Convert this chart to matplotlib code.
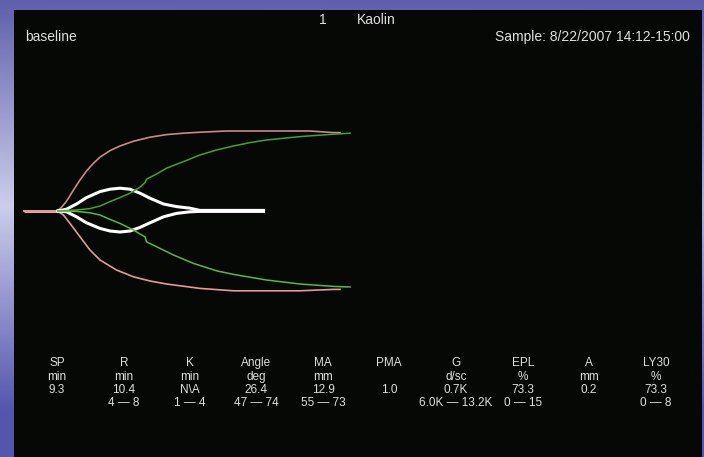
import numpy as np
import matplotlib
matplotlib.use('Agg')
import matplotlib.pyplot as plt

plt.rcParams['font.family'] = ['Liberation Sans', 'DejaVu Sans']

# tracing data: time (min) vs amplitude (mm), upper and lower branch
pink_t_up = [0, 6.8, 6.9, 7.5, 8.2, 8.9, 9.9, 11.2, 12.5, 13.9, 15.2, 17.2, 19.2, 21.9,
             25.2, 28.5, 31.9, 35.2, 40.5, 48.5, 57.2, 61.9, 63.2]
pink_a_up = [0, 0, 0.5, 1.9, 3.9, 6.4, 10.5, 15.5, 20.0, 23.9, 26.9, 30.2, 32.5, 34.9,
             36.9, 38.2, 38.9, 39.4, 40.0, 40.0, 40.0, 39.2, 39.2]
pink_t_lo = [0, 6.8, 6.9, 7.9, 9.2, 11.2, 13.2, 15.2, 18.5, 21.9, 25.2, 28.5, 35.2,
             41.9, 55.2, 61.9, 63.2]
pink_a_lo = [0, 0, -0.4, -2.0, -6.2, -12.9, -19.5, -24.5, -29.5, -32.9, -35.0, -36.5,
             -38.7, -39.9, -39.9, -39.2, -39.2]

green_t_up = [6.8, 10.5, 13.2, 15.2, 17.2, 19.2, 21.2, 23.2, 24.2, 24.5, 26.5, 28.5,
              31.9, 35.2, 38.5, 41.9, 45.2, 48.5, 55.2, 61.9, 65.2]
green_a_up = [0, 0.5, 1.2, 2.5, 4.7, 6.7, 8.9, 11.9, 14.2, 15.9, 18.5, 21.4,
              24.7, 28.0, 30.5, 32.5, 34.2, 35.5, 37.2, 38.4, 38.9]
green_t_lo = [6.8, 10.5, 13.2, 15.2, 17.2, 19.2, 21.9, 23.2, 24.2, 24.5, 27.2, 29.9,
              33.9, 38.5, 41.9, 48.5, 55.2, 61.9, 65.2]
green_a_lo = [0, -0.2, -0.9, -2.0, -4.2, -6.2, -9.5, -11.5, -12.9, -15.4, -18.7, -22.0,
              -26.2, -29.9, -31.7, -34.5, -36.5, -37.7, -38.0]

white_t = [6.8, 8.5, 10.5, 12.5, 15.2, 17.2, 19.2, 21.2, 23.2, 25.2, 27.9, 30.5, 33.2,
           35.2, 47.9]
white_a_up = [0, 0.9, 3.5, 6.7, 9.7, 10.9, 11.4, 10.9, 8.9, 6.4, 3.5, 2.2, 1.4, 0.3, 0.3]
white_a_lo = [0, -0.4, -2.9, -5.9, -8.7, -10.0, -10.5, -10.0, -8.2, -5.9, -2.9, -1.2,
              -0.4, -0.2, -0.2]

# results table
params = ['SP', 'R', 'K', 'Angle', 'MA', 'PMA', 'G', 'EPL', 'A', 'LY30']
units = ['min', 'min', 'min', 'deg', 'mm', '', 'd/sc', '%', 'mm', '%']
values = ['9.3', '10.4', 'N\\A', '26.4', '12.9', '1.0', '0.7K', '73.3', '0.2', '73.3']
ranges = ['', '4 \u2014 8', '1 \u2014 4', '47 \u2014 74', '55 \u2014 73', '',
          '6.0K \u2014 13.2K', '0 \u2014 15', '', '0 \u2014 8']

W, H = 704, 457
fig = plt.figure(figsize=(W / 100, H / 100), dpi=100)

# slide background
bg = fig.add_axes([0, 0, 1, 1])
yy, xx = np.mgrid[0:1:200j, 0:1:200j]
top = np.array([95, 95, 172]) / 255
mid = np.array([205, 205, 235]) / 255
bot = np.array([85, 85, 175]) / 255
w1 = np.clip(1 - np.abs(yy - 0.45) / 0.45, 0, 1)[..., None]
base = np.where((yy < 0.45)[..., None], top * (1 - w1) + mid * w1, bot * (1 - w1) + mid * w1)
base = base * (1 - 0.25 * xx[..., None]) + np.array([90, 90, 175]) / 255 * 0.25 * xx[..., None]
bg.imshow(base, aspect='auto', extent=[0, 1, 1, 0])
bg.set_axis_off()

# black tracing panel
ax = fig.add_axes([14 / W, 0, 688 / W, 447 / H])
ax.set_facecolor('#050805')
for s in ax.spines.values():
    s.set_visible(False)
ax.set_xticks([])
ax.set_yticks([])
ax.set_xlim(-2, 135.6)
ax.set_ylim(-123, 100.5)

ax.plot(pink_t_up[:2], pink_a_up[:2], color='#e8a8a8', lw=2.2, solid_capstyle='butt')
ax.plot(pink_t_up, pink_a_up, color='#c98a88', lw=1.2)
ax.plot(pink_t_lo, pink_a_lo, color='#e29a9a', lw=1.2)
ax.plot(white_t, white_a_up, color='white', lw=2.2)
ax.plot(white_t, white_a_lo, color='white', lw=2.2)
ax.plot(green_t_up, green_a_up, color='#4aa02c', lw=1.1)
ax.plot(green_t_lo, green_a_lo, color='#5cb83a', lw=1.1)

txt = '#dedede'


def px(x, y):
    return x / W, 1 - y / H


fig.text(*px(323, 20), '1', color=txt, fontsize=10, ha='center', va='center')
fig.text(*px(357, 20), 'Kaolin', color=txt, fontsize=10, ha='left', va='center')
fig.text(*px(25, 37), 'baseline', color=txt, fontsize=10, ha='left', va='center')
fig.text(*px(690, 37), 'Sample: 8/22/2007 14:12-15:00', color=txt, fontsize=10,
         ha='right', va='center')

cols = [57, 124, 190, 256, 323, 389, 456, 523, 589, 656]
rows = [363, 377, 390, 403]
for i, cx in enumerate(cols):
    for ry, lab in zip(rows, [params[i], units[i], values[i], ranges[i]]):
        if lab:
            fig.text(*px(cx, ry), lab, color=txt, fontsize=8.5, ha='center', va='center')

fig.savefig('out.png', dpi=100)
